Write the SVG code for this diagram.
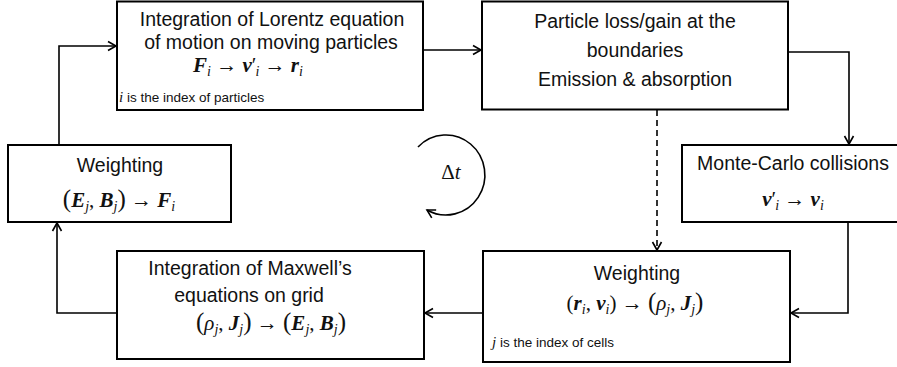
<svg xmlns="http://www.w3.org/2000/svg" width="897" height="367" viewBox="0 0 897 367">
<defs>
<marker id="ah" markerWidth="12" markerHeight="12" refX="10" refY="6" orient="auto" markerUnits="userSpaceOnUse">
<path d="M2,1.5 L10,6 L2,10.5" fill="none" stroke="#000" stroke-width="1.6"/>
</marker>
<style>
.box{fill:#fff;stroke:#000;stroke-width:2}
.t{font-family:"Liberation Sans",Arial,sans-serif;font-size:19.5px;fill:#111}
.sm{font-family:"Liberation Sans",Arial,sans-serif;font-size:13.5px;fill:#111}
.m{font-family:"Liberation Serif","DejaVu Serif",serif;font-size:21px;fill:#111}
.b{font-weight:bold;font-style:italic}
.s{font-style:italic;font-size:14px}
.p{font-size:25px}
.c{fill:none;stroke:#000;stroke-width:1.6}
</style>
</defs>
<g id="connectors">
<path class="c" d="M59,145 V46 H116" marker-end="url(#ah)"/>
<path class="c" d="M423,50 H481" marker-end="url(#ah)"/>
<path class="c" d="M788,52 H849 V144" marker-end="url(#ah)"/>
<path class="c" d="M848,222 V313 H791" marker-end="url(#ah)"/>
<path class="c" d="M483,313 H425" marker-end="url(#ah)"/>
<path class="c" d="M117,313 H57 V223" marker-end="url(#ah)"/>
<path class="c" d="M657,110 V250" stroke-dasharray="6,4" marker-end="url(#ah)"/>
<path class="c" d="M418,147 A39,40 0 1 1 427,210" marker-end="url(#ah)"/>
</g>
<text class="m" x="451" y="179" text-anchor="middle">Δ<tspan font-style="italic">t</tspan></text>
<g id="lorentz">
<rect class="box" x="117" y="1.5" width="306" height="108.5"/>
<text class="t" x="272" y="26" text-anchor="middle">Integration of Lorentz equation</text>
<text class="t" x="271" y="49" text-anchor="middle">of motion on moving particles</text>
<text class="m" x="248" y="72" text-anchor="middle"><tspan class="b">F</tspan><tspan class="s" dy="4">i</tspan><tspan dy="-4"> → </tspan><tspan class="b">v</tspan><tspan>′</tspan><tspan class="s" dx="-1" dy="4">i</tspan><tspan dy="-4"> → </tspan><tspan class="b">r</tspan><tspan class="s" dy="4">i</tspan></text>
<text class="sm" x="119" y="102"><tspan font-family="Liberation Serif" font-style="italic" font-size="15">i</tspan> is the index of particles</text>
</g>
<g id="boundaries">
<rect class="box" x="482" y="1.5" width="306" height="108"/>
<text class="t" x="635" y="28" text-anchor="middle">Particle loss/gain at the</text>
<text class="t" x="635" y="57" text-anchor="middle">boundaries</text>
<text class="t" x="635" y="86" text-anchor="middle">Emission &amp; absorption</text>
</g>
<g id="montecarlo">
<rect class="box" x="682" y="145" width="220" height="77"/>
<text class="t" x="793" y="170" text-anchor="middle">Monte-Carlo collisions</text>
<text class="m" x="793" y="206" text-anchor="middle"><tspan class="b">v</tspan><tspan>′</tspan><tspan class="s" dx="-1" dy="4">i</tspan><tspan dy="-4"> → </tspan><tspan class="b">v</tspan><tspan class="s" dy="4">i</tspan></text>
</g>
<g id="weighting-fields">
<rect class="box" x="8" y="145" width="223" height="77"/>
<text class="t" x="120" y="172" text-anchor="middle">Weighting</text>
<text class="m" x="119" y="207" text-anchor="middle"><tspan class="p">(</tspan><tspan class="b">E</tspan><tspan class="s" dy="4">j</tspan><tspan dy="-4">, </tspan><tspan class="b">B</tspan><tspan class="s" dy="4">j</tspan><tspan class="p" dy="-4">)</tspan><tspan> → </tspan><tspan class="b">F</tspan><tspan class="s" dy="4">i</tspan></text>
</g>
<g id="maxwell">
<rect class="box" x="117" y="251" width="307" height="108"/>
<text class="t" x="250" y="275" text-anchor="middle">Integration of Maxwell’s</text>
<text class="t" x="249" y="302" text-anchor="middle">equations on grid</text>
<text class="m" x="271" y="330" text-anchor="middle"><tspan class="p">(</tspan><tspan font-style="italic">ρ</tspan><tspan class="s" dy="4">j</tspan><tspan dy="-4">, </tspan><tspan class="b">J</tspan><tspan class="s" dy="4">j</tspan><tspan class="p" dy="-4">)</tspan><tspan> → </tspan><tspan class="p">(</tspan><tspan class="b">E</tspan><tspan class="s" dy="4">j</tspan><tspan dy="-4">, </tspan><tspan class="b">B</tspan><tspan class="s" dy="4">j</tspan><tspan class="p" dy="-4">)</tspan></text>
</g>
<g id="weighting-particles">
<rect class="box" x="483" y="251" width="307" height="111"/>
<text class="t" x="637" y="280" text-anchor="middle">Weighting</text>
<text class="m" x="635" y="310" text-anchor="middle"><tspan>(</tspan><tspan class="b">r</tspan><tspan class="s" dy="4">i</tspan><tspan dy="-4">, </tspan><tspan class="b">v</tspan><tspan class="s" dy="4">i</tspan><tspan dy="-4">)</tspan><tspan> → </tspan><tspan class="p">(</tspan><tspan font-style="italic">ρ</tspan><tspan class="s" dy="4">j</tspan><tspan dy="-4">, </tspan><tspan class="b">J</tspan><tspan class="s" dy="4">j</tspan><tspan class="p" dy="-4">)</tspan></text>
<text class="sm" x="492" y="347"><tspan font-family="Liberation Serif" font-style="italic" font-size="15">j</tspan> is the index of cells</text>
</g>
</svg>
